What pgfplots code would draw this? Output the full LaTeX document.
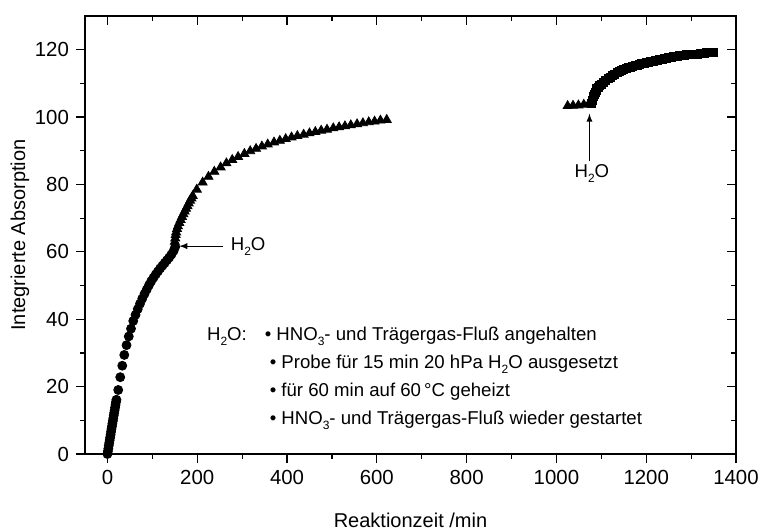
\documentclass[border=0pt]{standalone}
\usepackage{fontspec}
\setmainfont{Liberation Sans}
\usepackage{pgfplots}
\pgfplotsset{compat=1.18}

\newcommand{\sub}[1]{\raisebox{-2.6pt}{\fontsize{6}{7}\selectfont #1}}

\begin{document}
\begin{tikzpicture}
\pgfplotsset{
  base/.style={
    width=325.5pt, height=219pt, scale only axis,
    xmin=-50, xmax=1400, ymin=0, ymax=130,
    xtick={0,200,...,1400}, ytick={0,20,...,120},
    minor x tick num=1, minor y tick num=1,
    axis line style={line width=0.6pt},
    tick style={black, line width=0.6pt},
    major tick length=4.5pt, minor tick length=2.5pt,
  }
}
% main axis: ticks outside on bottom/left
\begin{axis}[base,
    tick align=outside, xtick pos=left, ytick pos=left,
    /pgf/number format/1000 sep={},
    /pgf/number format/assume math mode=true,
    tick label style={font=\fontsize{10.2}{12}\selectfont},
    xlabel={Reaktionzeit /min},
    ylabel={Integrierte Absorption},
    label style={font=\fontsize{9.6}{11}\selectfont},
    every axis x label/.style={at={(axis description cs:0.5,-0.1507)}, anchor=center},
    every axis y label/.style={at={(axis description cs:-0.1,0.5)}, anchor=center, rotate=90},
  ]
  % before H2O: circles
  \addplot[only marks, mark=*, mark size=2.25pt, black] coordinates {
    (0,0) (1,0.8) (2,1.6) (3,2.5) (4,3.3) (5,4.1) (6,4.9) (7,5.7) (8,6.6)
    (9,7.4) (10,8.2) (11,9.0) (12,9.8) (13,10.6) (14,11.4) (15,12.2)
    (16,13.0) (17,13.8) (18,14.6) (19,15.4) (20,16.1)
    (24,19.0) (28.5,22.8) (33,26.2) (37.5,29.4) (42.5,32.3) (47.5,34.9)
    (52.5,37.2) (57.5,39.5) (62.5,41.3) (67.5,43.0) (72.5,44.6) (77.5,46.1)
    (82.5,47.5) (87.5,48.8) (92.5,50.1) (97.5,51.3) (102.5,52.3) (107.5,53.3)
    (112.5,54.2) (117.5,55.1) (122.5,55.9) (127.5,56.7) (132.5,57.5)
    (137.5,58.3) (142.5,59.2) (147.5,60.3) (151,61.5)
  };
  % after first H2O: triangles
  \addplot[only marks, mark=triangle*, mark size=2.6pt, black] coordinates {
    (150,63.0) (151,64.0) (152,65.0) (153,65.8) (155,66.8) (157,67.6)
    (160,68.6) (163,69.5) (166,70.4) (169,71.2) (172,72.0) (175,72.8)
    (178,73.6) (181,74.4) (184,75.2) (187,75.9) (190,76.6)
    (199,78.5) (212,80.6) (225,82.3) (238,83.8) (252,85.1) (265,86.3)
    (278,87.3) (291,88.2) (305,89.1) (318,89.9) (331,90.6) (344,91.3)
    (357,91.9) (371,92.5) (384,93.0) (397,93.5) (410,94.0) (423,94.4)
    (437,94.8) (450,95.2) (463,95.6) (476,96.0) (489,96.3) (503,96.7)
    (516,97.0) (529,97.3) (542,97.6) (556,97.9) (569,98.2) (582,98.5)
    (595,98.7) (608,99.0) (622,99.2)
  };
  \addplot[only marks, mark=triangle*, mark size=2.6pt, black] coordinates {
    (1025,103.3) (1037,103.4) (1049,103.5) (1061,103.7) (1072,103.9) (1077,104.2)
  };
  % after second H2O: squares
  \addplot[only marks, mark=square*, mark size=2pt, black] coordinates {
    (1078,104.0) (1080,105.0) (1082,106.0) (1084,106.8) (1086,107.4)
    (1088,108.0) (1090,108.4) (1093,108.9) (1096,109.3) (1100,109.7)
    (1105,110.3) (1110,110.8) (1115,111.4) (1120,111.9) (1125,112.4)
    (1130,112.8) (1135,113.2) (1140,113.5) (1145,113.8) (1150,114.1)
    (1155,114.4) (1160,114.6) (1165,114.8) (1170,115.0) (1175,115.2)
    (1180,115.4) (1185,115.6) (1190,115.8) (1195,116.0) (1200,116.2)
    (1205,116.35) (1210,116.5) (1215,116.65) (1220,116.8) (1225,116.95)
    (1230,117.1) (1235,117.25) (1240,117.4) (1245,117.55) (1250,117.7)
    (1255,117.8) (1260,117.9) (1265,118.0) (1270,118.1) (1275,118.2)
    (1280,118.3) (1285,118.4) (1290,118.5) (1295,118.55) (1300,118.6)
    (1305,118.65) (1310,118.7) (1315,118.75) (1320,118.8) (1325,118.9)
    (1330,119.0) (1335,119.1) (1340,119.2) (1345,119.25) (1350,119.3)
  };
  % annotations
  \draw[-latex, line width=0.4pt] (axis cs:257,61.7) -- (axis cs:160,61.7);
  \node[anchor=west, inner sep=0pt, font=\fontsize{9.3}{11}\selectfont]
    at (axis cs:274,61.7) {H\sub{2}O};
  \draw[-latex, line width=0.4pt] (axis cs:1073.6,87) -- (axis cs:1073.6,101);
  \node[anchor=north, inner sep=0pt, font=\fontsize{9.3}{11}\selectfont]
    at (axis cs:1079,86) {H\sub{2}O};
  \node[anchor=north west, inner sep=0pt, font=\fontsize{9.3}{13.9}\selectfont, align=left]
    at (axis cs:221,39.5) {%
    \begin{tabular}{@{}l@{\hspace{9pt}}l@{}}
      H\sub{2}O: & • HNO\sub{3}- und Trägergas-Fluß angehalten\\
       & \hspace{2.5pt}• Probe für 15 min 20 hPa H\sub{2}O ausgesetzt\\
       & \hspace{2.5pt}• für 60 min auf 60\,°C geheizt\\
       & \hspace{2.5pt}• HNO\sub{3}- und Trägergas-Fluß wieder gestartet
    \end{tabular}};
\end{axis}
% mirror axis: inward ticks on top/right
\begin{axis}[base,
    tick align=inside, xtick pos=right, ytick pos=right,
    xticklabels={}, yticklabels={},
  ]
\end{axis}
\pgfresetboundingbox
\path (-42.5pt,-38pt) rectangle (338pt,227pt);
\end{tikzpicture}
\end{document}
